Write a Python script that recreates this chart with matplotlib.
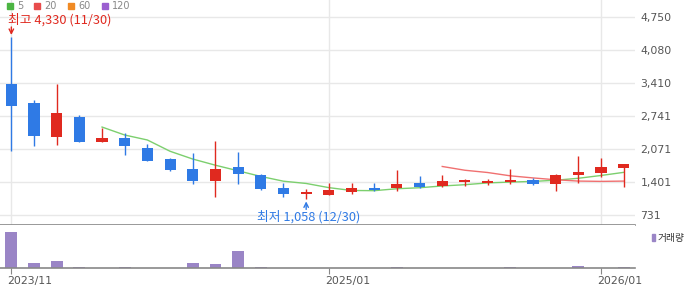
import numpy as np
import pandas as pd
import matplotlib
matplotlib.use('Agg')
import matplotlib.pyplot as plt
from matplotlib.transforms import ScaledTranslation

plt.rcParams['font.family'] = ['DejaVu Sans', 'Noto Sans CJK KR']

# monthly candles, 2023/11 .. 2026/02
months = ['2023/11', '2023/12', '2024/01', '2024/02', '2024/03', '2024/04', '2024/05',
          '2024/06', '2024/07', '2024/08', '2024/09', '2024/10', '2024/11', '2024/12',
          '2025/01', '2025/02', '2025/03', '2025/04', '2025/05', '2025/06', '2025/07',
          '2025/08', '2025/09', '2025/10', '2025/11', '2025/12', '2026/01', '2026/02']
opens = [3379, 2995, 2309, 2713, 2214, 2289, 2087, 1865, 1663, 1427, 1704, 1542, 1280, 1159,
         1145, 1199, 1280, 1280, 1381, 1320, 1395, 1387, 1407, 1447, 1367, 1548, 1589, 1690]
closes = [2941, 2335, 2793, 2214, 2289, 2134, 1831, 1649, 1427, 1663, 1569, 1260, 1165, 1199,
          1240, 1280, 1240, 1361, 1300, 1421, 1407, 1421, 1447, 1367, 1542, 1603, 1704, 1764]
highs = [4330, 3056, 3379, 2753, 2505, 2390, 2168, 1885, 1986, 2234, 2006, 1562, 1381, 1260,
         1381, 1381, 1381, 1643, 1522, 1542, 1462, 1462, 1663, 1475, 1562, 1926, 1879, 1764]
lows = [2033, 2134, 2154, 2214, 2214, 1952, 1831, 1629, 1367, 1104, 1367, 1234, 1104, 1058,
        1145, 1159, 1219, 1219, 1280, 1300, 1326, 1347, 1367, 1347, 1225, 1387, 1508, 1306]
volumes = [3600, 530, 730, 130, 20, 130, 20, 20, 530, 430, 1730, 130, 20, 20,
           20, 20, 20, 130, 20, 20, 20, 20, 130, 20, 20, 230, 20, 130]

price_ticks = [731, 1401, 2071, 2741, 3410, 4080, 4750]
year_ticks = ['2023/11', '2025/01', '2026/01']
ma_periods = [5, 20, 60, 120]
ma_colors = ['#4cb543', '#e84c4c', '#f08a24', '#9b5fd0']

RED = '#e0291f'
BLUE = '#2f7ae5'
W, H = 700, 289

df = pd.DataFrame({'open': opens, 'close': closes, 'high': highs, 'low': lows, 'vol': volumes})
x = np.arange(len(df))

fig = plt.figure(figsize=(W / 100, H / 100), dpi=100)
ax = fig.add_axes([0, (H - 225) / H, 635 / W, 225 / H])
axv = fig.add_axes([0, (H - 268) / H, 635 / W, 43 / H])

# price panel
up = df['close'] >= df['open']
colors = np.where(up, RED, BLUE)
ax.vlines(x, df['low'], df['high'], colors=colors, linewidth=1, zorder=3)
body_lo = np.minimum(df['open'], df['close'])
body_h = np.maximum(np.abs(df['close'] - df['open']), 40)
ax.bar(x, body_h, bottom=body_lo, width=0.49, color=colors, zorder=4)

ma_light = ['#7ccf6e', '#f07070']
for n, c in zip(ma_periods[:2], ma_light):
    ma = df['close'].rolling(n).mean()
    ax.plot(x, ma, color=c, linewidth=1, zorder=2)

ax.set_xlim(-0.5, len(df) - 0.5)
ax.set_ylim(529, 5090)
ax.set_yticks(price_ticks)
ax.set_yticklabels([f'{v:,}' for v in price_ticks])
ax.yaxis.tick_right()
ax.tick_params(axis='y', length=0, pad=4, labelsize=7.8, labelcolor='#555555')
ax.set_xticks([])
ax.grid(axis='y', color='#e8e8e8', linewidth=1)
ax.set_axisbelow(True)
for xi in [months.index(m) for m in year_ticks]:
    ax.axvline(xi, color='#e8e8e8', linewidth=1, zorder=0)
for s in ['top', 'right', 'left']:
    ax.spines[s].set_visible(False)
ax.spines['bottom'].set_color('#888888')
ax.spines['bottom'].set_linewidth(1.2)

# high / low markers (offsets in pixels: ~20.27 price units per pixel)
ppx = 20.27
ih = int(np.argmax(highs))
il = int(np.argmin(lows))
kfont = ['Noto Sans CJK KR', 'DejaVu Sans']
ax.annotate('', xy=(ih, highs[ih] + 2.5 * ppx), xytext=(ih, highs[ih] + 10.5 * ppx),
            arrowprops=dict(arrowstyle='->', color=RED, lw=1, shrinkA=0, shrinkB=0,
                            mutation_scale=8))
ax.text(ih - 0.14, highs[ih] + 11 * ppx, f'최고 {highs[ih]:,} (11/30)', color=RED,
        fontsize=9.2, family=kfont, ha='left', va='bottom')
ax.annotate('', xy=(il, lows[il] - 2.5 * ppx), xytext=(il, lows[il] - 10.5 * ppx),
            arrowprops=dict(arrowstyle='->', color=BLUE, lw=1, shrinkA=0, shrinkB=0,
                            mutation_scale=8))
ax.text(il + 0.1, lows[il] - 11 * ppx, f'최저 {lows[il]:,} (12/30)', color=BLUE,
        fontsize=9.2, family=kfont, ha='center', va='top')

# MA legend at top
lx = 7
for n, c in zip(ma_periods, ma_colors):
    fig.patches.append(plt.Rectangle((lx / W, 1 - 9 / H), 6 / W, 6 / H,
                                     transform=fig.transFigure, color=c))
    fig.text((lx + 10) / W, 1 - 6 / H, str(n), fontsize=7, color='#888888', va='center')
    lx += 10 + 7 * len(str(n)) + 10

# volume panel
axv.bar(x, df['vol'], width=0.52, color='#9a85c6')
axv.set_xlim(-0.5, len(df) - 0.5)
axv.set_ylim(0, max(volumes) * 43 / 36)
axv.set_yticks([])
axv.set_xticks([months.index(m) for m in year_ticks])
axv.set_xticklabels(year_ticks)
axv.tick_params(axis='x', length=4, color='#888888', labelsize=7.8, labelcolor='#555555', pad=2)
off = ScaledTranslation(-4 / 100, 0, fig.dpi_scale_trans)
for lab in axv.get_xticklabels():
    lab.set_ha('left')
    lab.set_transform(lab.get_transform() + off)
for s in ['top', 'right', 'left']:
    axv.spines[s].set_visible(False)
axv.spines['bottom'].set_color('#888888')
axv.spines['bottom'].set_linewidth(1.2)

fig.patches.append(plt.Rectangle((652 / W, 1 - 241 / H), 3 / W, 7 / H,
                                 transform=fig.transFigure, color='#9a85c6'))
fig.text(658 / W, 1 - 237.5 / H, '거래량', fontsize=7, family=kfont, color='#333333', va='center')

fig.savefig('out.png', dpi=100)
